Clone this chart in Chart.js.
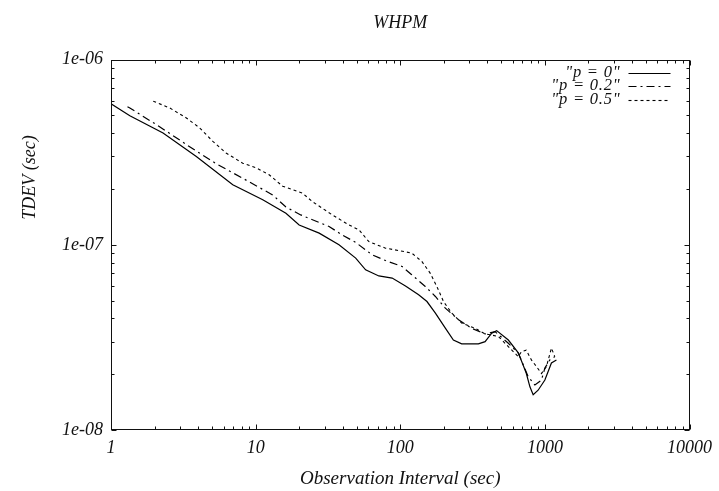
<!DOCTYPE html>
<html>
<head>
<meta charset="utf-8">
<script src="https://cdn.jsdelivr.net/npm/chart.js@4/dist/chart.umd.min.js"></script>
<style>
  html, body { margin: 0; padding: 0; background: #ffffff; }
  #wrap { width: 719px; height: 491px; }
</style>
</head>
<body>
<div id="wrap"><canvas id="c" width="719" height="491"></canvas></div>
<script>
// Observation interval (s) and TDEV (s) for each noise mix
const tauP0 = [1, 1.35, 2.29, 3.89, 6.95, 11.2, 16.2, 20.0, 27.5, 37.7, 49.2, 57.6, 71.1, 87.9, 108.7, 134, 153, 175, 205, 233, 266, 347, 386, 429, 464, 559, 655, 743, 788, 830, 898, 1000, 1110, 1202];
const tdevP0 = [5.77e-7, 4.98e-7, 4.02e-7, 3.00e-7, 2.11e-7, 1.75e-7, 1.48e-7, 1.28e-7, 1.156e-7, 1.0e-7, 8.47e-8, 7.33e-8, 6.79e-8, 6.61e-8, 6.0e-8, 5.37e-8, 4.94e-8, 4.28e-8, 3.55e-8, 3.06e-8, 2.92e-8, 2.92e-8, 3.0e-8, 3.33e-8, 3.44e-8, 3.06e-8, 2.61e-8, 2.03e-8, 1.71e-8, 1.55e-8, 1.64e-8, 1.86e-8, 2.30e-8, 2.39e-8];

const tauP02 = [1.3, 1.35, 2.18, 3.41, 5.34, 8.37, 13.1, 16.2, 20.5, 32.2, 39.7, 49.2, 63.9, 79.1, 103, 120, 149, 175, 205, 253, 312, 386, 452, 559, 655, 767, 853, 947, 1000, 1082, 1171];
const tdevP02 = [5.56e-7, 5.48e-7, 4.33e-7, 3.43e-7, 2.74e-7, 2.26e-7, 1.86e-7, 1.60e-7, 1.45e-7, 1.256e-7, 1.13e-7, 1.03e-7, 8.83e-8, 8.22e-8, 7.64e-8, 6.89e-8, 5.96e-8, 5.26e-8, 4.55e-8, 3.94e-8, 3.54e-8, 3.30e-8, 3.40e-8, 2.94e-8, 2.60e-8, 1.94e-8, 1.75e-8, 1.86e-8, 2.16e-8, 2.39e-8, 2.49e-8];

const tauP05 = [1.96, 2.55, 3.32, 4.10, 5.06, 6.25, 8.14, 10.1, 12.4, 15.4, 21.1, 24.7, 33.9, 44.2, 51.8, 60.7, 79.1, 97.7, 120, 141, 161, 179, 199, 227, 266, 329, 386, 407, 477, 559, 655, 689, 743, 807, 875, 947, 1025, 1110, 1171];
const tdevP05 = [5.96e-7, 5.48e-7, 4.84e-7, 4.28e-7, 3.62e-7, 3.13e-7, 2.76e-7, 2.60e-7, 2.39e-7, 2.07e-7, 1.90e-7, 1.71e-7, 1.45e-7, 1.28e-7, 1.205e-7, 1.04e-7, 9.59e-8, 9.31e-8, 9.02e-8, 8.13e-8, 7.03e-8, 5.96e-8, 4.94e-8, 4.28e-8, 3.78e-8, 3.54e-8, 3.30e-8, 3.28e-8, 3.20e-8, 2.82e-8, 2.49e-8, 2.65e-8, 2.70e-8, 2.39e-8, 2.20e-8, 2.02e-8, 2.20e-8, 2.77e-8, 2.49e-8];

const seriesNames = ['"p = 0"', '"p = 0.2"', '"p = 0.5"'];

// Axis ticks and titles
const xTickValues = [1, 10, 100, 1000, 10000];
const xTickLabels = ['1', '10', '100', '1000', '10000'];
const yTickValues = [1e-8, 1e-7, 1e-6];
const yTickLabels = ['1e-08', '1e-07', '1e-06'];
const yTitle = 'TDEV (sec)';

const FONT = '"Liberation Serif", "Times New Roman", serif';
const INK = '#111111';

function toPoints(xs, ys) {
  return xs.map((v, i) => ({ x: v, y: ys[i] }));
}

function labelFor(values, labels) {
  return (v) => {
    const i = values.findIndex(t => Math.abs(Math.log10(t) - Math.log10(v)) < 1e-6);
    return i >= 0 ? labels[i] : '';
  };
}

// Closed frame with inward major/minor tick marks on all four sides,
// the key in the upper right corner and the rotated y-axis caption.
const framePlugin = {
  id: 'frameTicks',
  afterDatasetsDraw(chart) {
    const { ctx, chartArea: a, scales: { x, y } } = chart;
    ctx.save();
    ctx.strokeStyle = INK;
    ctx.lineWidth = 1;
    ctx.setLineDash([]);
    const L = Math.round(a.left) + 0.5, R = Math.round(a.right) - 0.5;
    const T = Math.round(a.top) + 0.5, B = Math.round(a.bottom) - 0.5;
    ctx.strokeRect(L, T, R - L, B - T);

    ctx.beginPath();
    for (let d = 1; d <= 10000; d *= 10) {
      for (let m = 1; m <= 9; m++) {
        const v = d * m;
        if (v > 10000) break;
        const px = Math.round(x.getPixelForValue(v)) + 0.5;
        const len = m === 1 ? 5 : 3;
        ctx.moveTo(px, B); ctx.lineTo(px, B - len);
        ctx.moveTo(px, T); ctx.lineTo(px, T + len);
      }
    }
    for (let d = 1e-8; d <= 1.0001e-6; d *= 10) {
      for (let m = 1; m <= 9; m++) {
        const v = d * m;
        if (v > 1.0001e-6) break;
        const py = Math.round(y.getPixelForValue(v)) + 0.5;
        const len = m === 1 ? 5 : 3;
        ctx.moveTo(L, py); ctx.lineTo(L + len, py);
        ctx.moveTo(R, py); ctx.lineTo(R - len, py);
      }
    }
    ctx.stroke();

    // key
    ctx.font = 'italic 16.5px ' + FONT;
    if ('letterSpacing' in ctx) ctx.letterSpacing = '0.8px';
    ctx.fillStyle = INK;
    ctx.textAlign = 'right';
    ctx.textBaseline = 'middle';
    chart.data.datasets.forEach((ds, i) => {
      const rowY = a.top + 13 + i * 13.5;
      ctx.fillText(ds.label, a.right - 69, rowY);
      ctx.beginPath();
      ctx.setLineDash(ds.borderDash || []);
      ctx.lineWidth = ds.borderWidth;
      ctx.strokeStyle = ds.borderColor;
      ctx.moveTo(a.right - 61, Math.round(rowY) + 0.5);
      ctx.lineTo(a.right - 19, Math.round(rowY) + 0.5);
      ctx.stroke();
    });
    if ('letterSpacing' in ctx) ctx.letterSpacing = '0px';

    // y-axis caption, rotated, sitting in the upper half of the axis
    ctx.setLineDash([]);
    ctx.fillStyle = INK;
    ctx.font = 'italic 18px ' + FONT;
    ctx.translate(30, a.top + 118);
    ctx.rotate(-Math.PI / 2);
    ctx.textAlign = 'center';
    ctx.textBaseline = 'middle';
    ctx.fillText(yTitle, 0, 0);
    ctx.restore();
  }
};

new Chart(document.getElementById('c'), {
  type: 'line',
  data: {
    datasets: [
      { label: seriesNames[0], data: toPoints(tauP0, tdevP0), borderColor: '#000', borderWidth: 1.2, borderDash: [], pointRadius: 0, tension: 0, fill: false },
      { label: seriesNames[1], data: toPoints(tauP02, tdevP02), borderColor: '#000', borderWidth: 1.2, borderDash: [8, 4, 2, 4], pointRadius: 0, tension: 0, fill: false },
      { label: seriesNames[2], data: toPoints(tauP05, tdevP05), borderColor: '#000', borderWidth: 1.1, borderDash: [3, 3], pointRadius: 0, tension: 0, fill: false }
    ]
  },
  options: {
    responsive: false,
    animation: false,
    devicePixelRatio: 1,
    parsing: false,
    layout: { padding: { left: 0, right: 27, top: 0, bottom: 0 } },
    plugins: {
      legend: { display: false },
      tooltip: { enabled: false },
      title: {
        display: true,
        text: 'WHPM',
        fullSize: false,
        color: INK,
        font: { family: FONT, size: 18, style: 'italic', weight: 'normal' },
        padding: { top: 12, bottom: 26 }
      }
    },
    scales: {
      x: {
        type: 'logarithmic',
        min: 1,
        max: 10000,
        afterBuildTicks: (s) => { s.ticks = xTickValues.map(v => ({ value: v })); },
        afterFit: (s) => { s.height = 61; },
        ticks: {
          autoSkip: false, maxRotation: 0, padding: 7, color: INK,
          font: { family: FONT, size: 18, style: 'italic' },
          callback: labelFor(xTickValues, xTickLabels)
        },
        grid: { display: false, drawTicks: false },
        border: { display: false },
        title: {
          display: true, text: 'Observation Interval (sec)', color: INK,
          font: { family: FONT, size: 19, style: 'italic' },
          padding: { top: 0, bottom: 1 }
        }
      },
      y: {
        type: 'logarithmic',
        min: 1e-8,
        max: 1e-6,
        afterBuildTicks: (s) => { s.ticks = yTickValues.map(v => ({ value: v })); },
        afterFit: (s) => { s.width = 111; },
        ticks: {
          autoSkip: false, padding: 8, color: INK,
          font: { family: FONT, size: 18, style: 'italic' },
          callback: labelFor(yTickValues, yTickLabels)
        },
        grid: { display: false, drawTicks: false },
        border: { display: false },
        title: { display: false }
      }
    }
  },
  plugins: [framePlugin]
});
</script>
</body>
</html>
